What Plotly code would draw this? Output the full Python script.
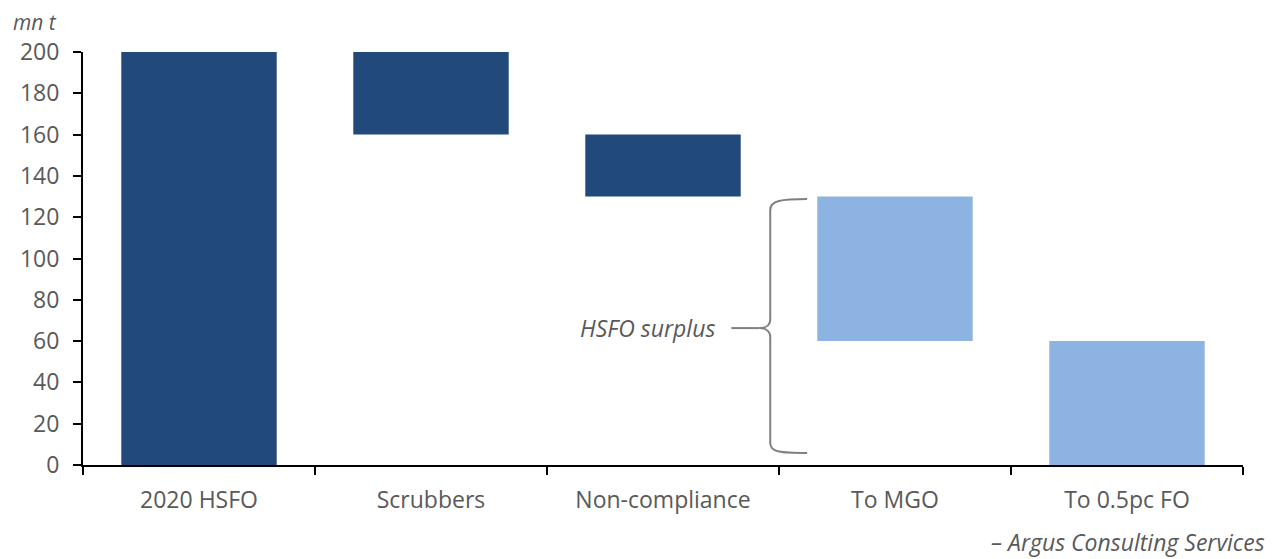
import plotly.graph_objects as go

categories = ["2020 HSFO", "Scrubbers", "Non-compliance", "To MGO", "To 0.5pc FO"]
bar_bottom = [0, 160, 130, 60, 0]
bar_top = [200, 200, 160, 130, 60]
bar_colors = ["#214A7B", "#214A7B", "#214A7B", "#8DB3E2", "#8DB3E2"]
y_ticks = [0, 20, 40, 60, 80, 100, 120, 140, 160, 180, 200]

heights = [t - b for t, b in zip(bar_top, bar_bottom)]

fig = go.Figure()
fig.add_trace(go.Bar(
    x=categories, y=heights, base=bar_bottom,
    marker=dict(color=bar_colors, line=dict(width=0)),
    width=0.67, showlegend=False,
))

FONT = "Open Sans, Noto Sans, sans-serif"
GREY = "#595959"
FS = 23

# plot area in window pixels: x 80..1243, y 52..465
def px(xp):
    return (xp - 80) / 1163.0

def py(yp):
    return (465 - yp) / 413.0

brace = (
    f"M {px(806)},128.8 "
    f"C {px(780)},128.8 {px(769)},128 {px(769)},123.5 "
    f"L {px(769)},70.5 "
    f"C {px(769)},67 {px(762)},66.3 {px(758)},66.3 "
    f"C {px(762)},66.3 {px(769)},65.6 {px(769)},62 "
    f"L {px(769)},10.7 "
    f"C {px(769)},6 {px(780)},5.8 {px(806)},5.8"
)
fig.add_shape(type="path", path=brace, xref="paper", yref="y",
              line=dict(color="#808080", width=2))
fig.add_shape(type="line", xref="paper", yref="y",
              x0=px(730), x1=px(758), y0=66.3, y1=66.3,
              line=dict(color="#808080", width=2))

fig.add_annotation(text="<i>HSFO surplus</i>", xref="paper", yref="y",
                   x=px(716), y=66.3, xanchor="right", yanchor="middle",
                   showarrow=False,
                   font=dict(family=FONT, size=FS, color=GREY))

fig.add_annotation(text="<i>mn t</i>", xref="paper", yref="paper",
                   x=px(8), y=py(22),
                   xanchor="left", yanchor="middle", showarrow=False,
                   font=dict(family=FONT, size=21, color=GREY))
fig.add_annotation(text="<i>– Argus Consulting Services</i>", xref="paper", yref="paper",
                   x=px(1267), y=py(542),
                   xanchor="right", yanchor="middle", showarrow=False,
                   font=dict(family=FONT, size=FS, color=GREY))

# page body has an 8px margin, so the figure is offset by 8px
fig.update_layout(
    width=1275, height=551,
    margin=dict(l=72, r=40, t=44, b=94, pad=0),
    paper_bgcolor="white", plot_bgcolor="white",
    font=dict(family=FONT, size=FS, color=GREY),
)
fig.update_xaxes(
    type="category", tickson="boundaries", ticks="outside", ticklen=8,
    tickwidth=2, tickcolor="black", showline=True, linecolor="black", linewidth=2,
    showgrid=False, zeroline=False, range=[-0.5, 4.5], ticklabelstandoff=13,
    tickfont=dict(family=FONT, size=FS, color=GREY),
)
fig.update_yaxes(
    range=[0, 200], tickvals=y_ticks, ticks="outside", ticklen=8, tickwidth=2,
    tickcolor="black", showline=True, linecolor="black", linewidth=2,
    showgrid=False, zeroline=False, ticklabelstandoff=9,
    tickfont=dict(family=FONT, size=FS, color=GREY),
)

fig.write_html("out.html")
